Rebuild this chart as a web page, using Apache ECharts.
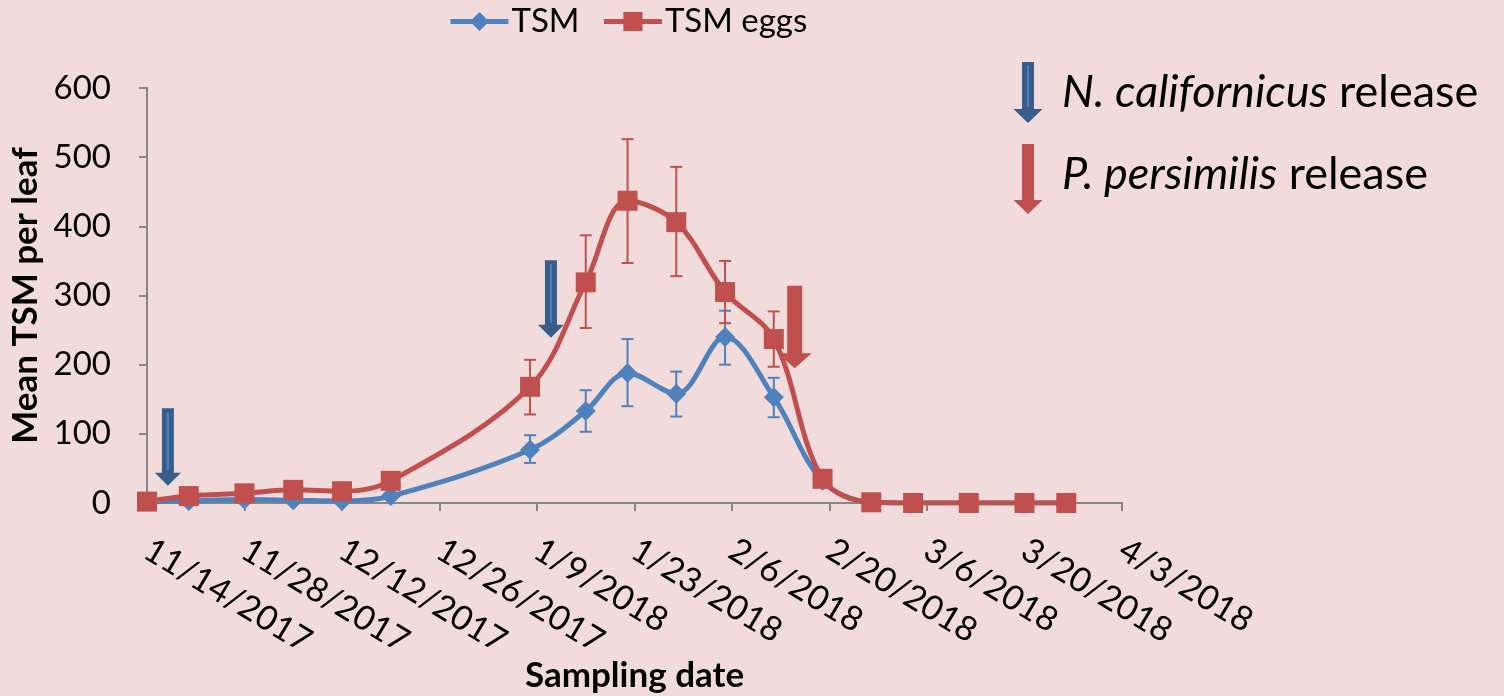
<!DOCTYPE html>
<html>
<head>
<meta charset="utf-8">
<script src="https://cdn.jsdelivr.net/npm/echarts@6/dist/echarts.min.js"></script>
<style>
html, body { margin: 0; padding: 0; background: #F2DCDB; }
#chart { width: 1504px; height: 696px; }
</style>
</head>
<body>
<div id="chart"></div>
<script>
// Sampling dates and mean counts per leaf
const sampleDates = ['2017-11-14', '2017-11-20', '2017-11-28', '2017-12-05', '2017-12-12', '2017-12-19',
  '2018-01-08', '2018-01-16', '2018-01-22', '2018-01-29', '2018-02-05', '2018-02-12',
  '2018-02-19', '2018-02-26', '2018-03-04', '2018-03-12', '2018-03-20', '2018-03-26'];
const tsm =     [2, 3, 5, 4, 3, 10, 77, 133, 188, 158, 240, 153, 32, 1, 0, 0, 0, 0];
const tsmEggs = [2, 10, 14, 19, 17, 32, 168, 319, 437, 406, 305, 237, 35, 1, 0, 0, 0, 0];

// Standard error ranges (null where no bar is drawn)
const tsmLow =  [null, null, null, null, null, null, 58, 103, 140, 125, 200, 124, null, null, null, null, null, null];
const tsmHigh = [null, null, null, null, null, null, 98, 163, 237, 190, 278, 181, null, null, null, null, null, null];
const eggLow =  [null, null, null, null, null, null, 128, 253, 347, 328, 260, 197, null, null, null, null, null, null];
const eggHigh = [null, null, null, null, null, null, 207, 387, 526, 486, 350, 277, null, null, null, null, null, null];

// Predator release events: date, and the value range each arrow spans
const nReleaseDates = ['2017-11-17', '2018-01-11'];
const nReleaseTop = [137, 351];
const nReleaseTip = [25, 239];
const pReleaseDates = ['2018-02-15'];
const pReleaseTop = [314];
const pReleaseTip = [195];

// Axis ticks
const xStart = '2017-11-14';
const xEnd = '2018-04-03';
const xStepDays = 14;
const yMax = 600;
const yStep = 100;

const DAY = 86400000;
const parseUTC = s => { const p = s.split('-').map(Number); return Date.UTC(p[0], p[1] - 1, p[2]); };
const t0 = parseUTC(xStart);
const toDay = s => Math.round((parseUTC(s) - t0) / DAY);
const fmtDay = v => {
  const d = new Date(t0 + v * DAY);
  return (d.getUTCMonth() + 1) + '/' + d.getUTCDate() + '/' + d.getUTCFullYear();
};

const BLUE = '#4F81BD';
const RED = '#C0504D';
const ARROW_BLUE = '#385D8A';
const FONT = 'Lato';

const pts = vals => sampleDates.map((d, i) => [toDay(d), vals[i]]);
const bars = (lo, hi) => sampleDates.map((d, i) => [toDay(d), lo[i], hi[i]]).filter(r => r[1] !== null);

function errorBar(color) {
  return function (params, api) {
    const x = api.value(0);
    const lo = api.coord([x, api.value(1)]);
    const hi = api.coord([x, api.value(2)]);
    const cap = 6;
    const style = { stroke: color, lineWidth: 2, fill: null };
    return {
      type: 'group',
      children: [
        { type: 'line', shape: { x1: lo[0], y1: lo[1], x2: hi[0], y2: hi[1] }, style },
        { type: 'line', shape: { x1: lo[0] - cap, y1: lo[1], x2: lo[0] + cap, y2: lo[1] }, style },
        { type: 'line', shape: { x1: hi[0] - cap, y1: hi[1], x2: hi[0] + cap, y2: hi[1] }, style }
      ]
    };
  };
}

function arrowPoints(cx, top, tip, sw, hw, hl) {
  return [[cx - sw, top], [cx + sw, top], [cx + sw, tip - hl], [cx + hw, tip - hl],
          [cx, tip], [cx - hw, tip - hl], [cx - sw, tip - hl]];
}

function arrowItem(fill, stripe, sw, hw, hl) {
  return function (params, api) {
    const x = api.value(0);
    const a = api.coord([x, api.value(1)]);
    const b = api.coord([x, api.value(2)]);
    const children = [{ type: 'polygon', shape: { points: arrowPoints(a[0], a[1], b[1], sw, hw, hl) }, style: { fill } }];
    if (stripe) {
      children.push({ type: 'line', shape: { x1: a[0], y1: a[1] + 4, x2: a[0], y2: b[1] - hl - 2 },
        style: { stroke: stripe, lineWidth: 2 } });
    }
    return { type: 'group', children };
  };
}

const chart = echarts.init(document.getElementById('chart'), null, { renderer: 'canvas' });

chart.setOption({
  backgroundColor: '#F2DCDB',
  animation: false,
  textStyle: { fontFamily: FONT },
  legend: {
    top: 0,
    left: 443,
    itemWidth: 58,
    itemHeight: 24,
    itemGap: 22,
    lineStyle: { width: 5 },
    textStyle: { fontFamily: FONT, fontSize: 33, color: '#000', padding: [0, 0, 0, -2] },
    data: ['TSM', 'TSM eggs']
  },
  grid: { left: 147, right: 382, top: 88, bottom: 193, containLabel: false, outerBoundsMode: 'none' },
  xAxis: {
    type: 'value',
    min: 0,
    max: toDay(xEnd),
    interval: xStepDays,
    name: 'Sampling date',
    nameLocation: 'middle',
    nameGap: 155,
    nameMoveOverlap: false,
    nameTextStyle: { fontFamily: FONT, fontSize: 35, fontWeight: 'bold', color: '#000' },
    splitLine: { show: false },
    axisLine: { show: true, onZero: false, lineStyle: { color: '#868686', width: 2 } },
    axisTick: { show: true, length: 8, lineStyle: { color: '#868686', width: 2 } },
    axisLabel: {
      rotate: -31,
      margin: 44,
      fontFamily: FONT,
      fontSize: 34,
      color: '#000',
      showMinLabel: true,
      showMaxLabel: true,
      formatter: v => fmtDay(v)
    }
  },
  yAxis: {
    type: 'value',
    min: 0,
    max: yMax,
    interval: yStep,
    name: 'Mean TSM per leaf',
    nameLocation: 'middle',
    nameGap: 104,
    nameMoveOverlap: false,
    nameTextStyle: { fontFamily: FONT, fontSize: 35, fontWeight: 'bold', color: '#000' },
    splitLine: { show: false },
    axisLine: { show: true, lineStyle: { color: '#868686', width: 2 } },
    axisTick: { show: true, length: 8, lineStyle: { color: '#868686', width: 2 } },
    axisLabel: { margin: 36, fontFamily: FONT, fontSize: 33, color: '#000' }
  },
  series: [
    {
      name: 'TSM err',
      type: 'custom',
      z: 1,
      renderItem: errorBar(BLUE),
      data: bars(tsmLow, tsmHigh),
      encode: { x: 0, y: [1, 2] },
      silent: true
    },
    {
      name: 'TSM eggs err',
      type: 'custom',
      z: 1,
      renderItem: errorBar(RED),
      data: bars(eggLow, eggHigh),
      encode: { x: 0, y: [1, 2] },
      silent: true
    },
    {
      name: 'TSM',
      type: 'line',
      z: 2,
      smooth: 0.35,
      symbol: 'diamond',
      symbolSize: 20,
      lineStyle: { color: BLUE, width: 5 },
      itemStyle: { color: BLUE },
      data: pts(tsm)
    },
    {
      name: 'TSM eggs',
      type: 'line',
      z: 3,
      smooth: 0.35,
      symbol: 'rect',
      symbolSize: 20,
      lineStyle: { color: RED, width: 5 },
      itemStyle: { color: RED },
      data: pts(tsmEggs)
    },
    {
      name: 'N. californicus release',
      type: 'custom',
      z: 5,
      renderItem: arrowItem(ARROW_BLUE, BLUE, 6, 13, 13),
      data: nReleaseDates.map((d, i) => [toDay(d), nReleaseTop[i], nReleaseTip[i]]),
      encode: { x: 0, y: [1, 2] },
      silent: true
    },
    {
      name: 'P. persimilis release',
      type: 'custom',
      z: 5,
      renderItem: arrowItem(RED, null, 7.5, 17, 15),
      data: pReleaseDates.map((d, i) => [toDay(d), pReleaseTop[i], pReleaseTip[i]]),
      encode: { x: 0, y: [1, 2] },
      silent: true
    }
  ],
  graphic: [
    { type: 'polygon', shape: { points: arrowPoints(1028, 62, 123, 6, 14.5, 14) }, style: { fill: ARROW_BLUE } },
    { type: 'line', shape: { x1: 1028, y1: 66, x2: 1028, y2: 107 }, style: { stroke: BLUE, lineWidth: 2 } },
    { type: 'polygon', shape: { points: arrowPoints(1028, 144, 214, 6, 14.5, 14) }, style: { fill: RED } },
    {
      type: 'text', x: 1062, y: 92,
      style: {
        text: '{i|N. californicus} release',
        font: '45px ' + FONT, fill: '#000', verticalAlign: 'middle',
        rich: { i: { fontStyle: 'italic', fontSize: 45, fontFamily: FONT, fill: '#000' } }
      }
    },
    {
      type: 'text', x: 1062, y: 174,
      style: {
        text: '{i|P. persimilis} release',
        font: '45px ' + FONT, fill: '#000', verticalAlign: 'middle',
        rich: { i: { fontStyle: 'italic', fontSize: 45, fontFamily: FONT, fill: '#000' } }
      }
    }
  ]
});
</script>
</body>
</html>
